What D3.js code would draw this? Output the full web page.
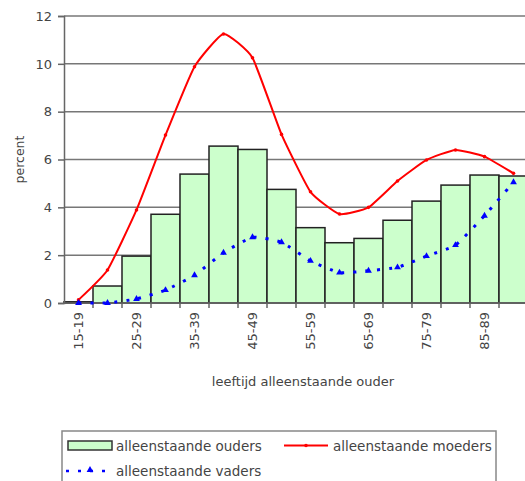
<!DOCTYPE html>
<html>
<head>
<meta charset="utf-8">
<script src="https://cdn.jsdelivr.net/npm/d3@7"></script>
<style>
  body { margin: 0; background: #fff; }
  text { font-family: "DejaVu Sans", Verdana, sans-serif; fill: #444; }
</style>
</head>
<body>
<script>
// leeftijdsklassen
const categories = ["15-19","20-24","25-29","30-34","35-39","40-44","45-49","50-54",
                    "55-59","60-64","65-69","70-74","75-79","80-84","85-89","90-94"];
const ouders  = [0.05, 0.71, 1.96, 3.71, 5.39, 6.56, 6.42, 4.75, 3.15, 2.52, 2.7, 3.46, 4.26, 4.93, 5.35, 5.31];
const moeders = [0.13, 1.38, 3.89, 7.02, 9.88, 11.25, 10.25, 7.05, 4.65, 3.72, 4.0, 5.1, 5.98, 6.4, 6.12, 5.42];
const vaders  = [0.0, 0.0, 0.17, 0.54, 1.16, 2.1, 2.75, 2.54, 1.76, 1.27, 1.35, 1.49, 1.96, 2.42, 3.65, 5.05];
const yTicks = [0, 2, 4, 6, 8, 10, 12];

const w = 525, h = 481;
const margin = {top: 16, right: -3, bottom: 178, left: 64};

const svg = d3.select("body").append("svg")
    .attr("width", w)
    .attr("height", h);

const x = d3.scaleBand()
    .domain(categories)
    .range([margin.left, w - margin.right])
    .padding(0);

const y = d3.scaleLinear()
    .domain([0, 12])
    .range([h - margin.bottom, margin.top]);

// gridlines
svg.append("g")
    .selectAll("line")
    .data(yTicks.filter(d => d > 0))
    .enter().append("line")
    .attr("x1", margin.left)
    .attr("x2", w)
    .attr("y1", d => y(d))
    .attr("y2", d => y(d))
    .attr("stroke", "#777")
    .attr("stroke-width", 1.5);

// bars
svg.append("g")
    .attr("fill", "#ccffcc")
    .attr("stroke", "#222")
    .attr("stroke-width", 1.5)
    .selectAll("rect")
    .data(ouders)
    .enter().append("rect")
    .attr("x", (d, i) => x(categories[i]))
    .attr("width", x.bandwidth())
    .attr("y", d => y(d))
    .attr("height", d => y(0) - y(d));

// y axis
const yAxis = g => g
    .attr("transform", `translate(${margin.left},0)`)
    .call(d3.axisLeft(y).tickValues(yTicks).tickSize(6).tickPadding(6))
    .call(g => g.selectAll("line, path").attr("stroke", "#666").attr("stroke-width", 1.5))
    .call(g => g.selectAll("text").attr("font-size", 13).attr("fill", "#444")
        .style("font-family", "DejaVu Sans"));
svg.append("g").call(yAxis);

// x axis: ticks between categories, labels every other category
const xAxis = g => g
    .attr("transform", `translate(0,${y(0)})`)
    .call(g => g.append("line")
        .attr("x1", margin.left).attr("x2", w)
        .attr("stroke", "#666").attr("stroke-width", 1.5))
    .call(g => g.selectAll(".tk")
        .data(categories)
        .enter().append("line")
        .attr("class", "tk")
        .attr("x1", d => x(d) + x.bandwidth())
        .attr("x2", d => x(d) + x.bandwidth())
        .attr("y1", 0).attr("y2", 5)
        .attr("stroke", "#666").attr("stroke-width", 1.5))
    .call(g => g.selectAll(".lbl")
        .data(categories.filter((d, i) => i % 2 === 0))
        .enter().append("text")
        .attr("class", "lbl")
        .attr("transform", d => `translate(${x(d) + x.bandwidth() / 2 + 4.5},9) rotate(-90)`)
        .attr("text-anchor", "end")
        .attr("font-size", 13)
        .text(d => d));
svg.append("g").call(xAxis);

const cx = i => x(categories[i]) + x.bandwidth() / 2;

// smoothed lines (excel-style)
const smooth = d3.line()
    .x((d, i) => cx(i))
    .y(d => y(d))
    .curve(d3.curveCardinal.tension(0.55));

// moeders
svg.append("path")
    .datum(moeders)
    .attr("fill", "none")
    .attr("stroke", "#ff0000")
    .attr("stroke-width", 2)
    .attr("d", smooth);

svg.append("g")
    .attr("fill", "#ff0000")
    .selectAll("circle")
    .data(moeders)
    .enter().append("circle")
    .attr("cx", (d, i) => cx(i))
    .attr("cy", d => y(d))
    .attr("r", 1.8);

// vaders
svg.append("path")
    .datum(vaders)
    .attr("fill", "none")
    .attr("stroke", "#0000ff")
    .attr("stroke-width", 3)
    .attr("stroke-dasharray", "3,9")
    .attr("d", smooth);

const tri = d3.symbol().type(d3.symbolTriangle).size(20);
svg.append("g")
    .attr("fill", "#0000ff")
    .selectAll("path")
    .data(vaders)
    .enter().append("path")
    .attr("transform", (d, i) => `translate(${cx(i)},${y(d)})`)
    .attr("d", tri);

// axis titles
svg.append("text")
    .attr("transform", `translate(24,${(y(0) + y(12)) / 2}) rotate(-90)`)
    .attr("text-anchor", "middle")
    .attr("font-size", 12.5)
    .text("percent");

svg.append("text")
    .attr("x", 303)
    .attr("y", 386)
    .attr("text-anchor", "middle")
    .attr("font-size", 13)
    .text("leeftijd alleenstaande ouder");

// legend
const legend = svg.append("g");
legend.append("rect")
    .attr("x", 62).attr("y", 431)
    .attr("width", 434).attr("height", 60)
    .attr("fill", "#fff")
    .attr("stroke", "#888")
    .attr("stroke-width", 1.5);

legend.append("rect")
    .attr("x", 68).attr("y", 441)
    .attr("width", 44).attr("height", 9)
    .attr("fill", "#ccffcc")
    .attr("stroke", "#333")
    .attr("stroke-width", 1.5);
legend.append("text").attr("x", 116).attr("y", 450.5).attr("font-size", 13.5).text("alleenstaande ouders");

legend.append("line")
    .attr("x1", 284).attr("x2", 328).attr("y1", 445.5).attr("y2", 445.5)
    .attr("stroke", "#ff0000").attr("stroke-width", 2);
legend.append("circle").attr("cx", 306).attr("cy", 445.5).attr("r", 1.8).attr("fill", "#ff0000");
legend.append("text").attr("x", 333).attr("y", 450.5).attr("font-size", 13.5).text("alleenstaande moeders");

legend.append("line")
    .attr("x1", 66).attr("x2", 112).attr("y1", 471).attr("y2", 471)
    .attr("stroke", "#0000ff").attr("stroke-width", 2.5)
    .attr("stroke-dasharray", "3,9");
legend.append("path")
    .attr("transform", "translate(90,470)")
    .attr("d", tri)
    .attr("fill", "#0000ff");
legend.append("text").attr("x", 116).attr("y", 475.5).attr("font-size", 13.5).text("alleenstaande vaders");
</script>
</body>
</html>
